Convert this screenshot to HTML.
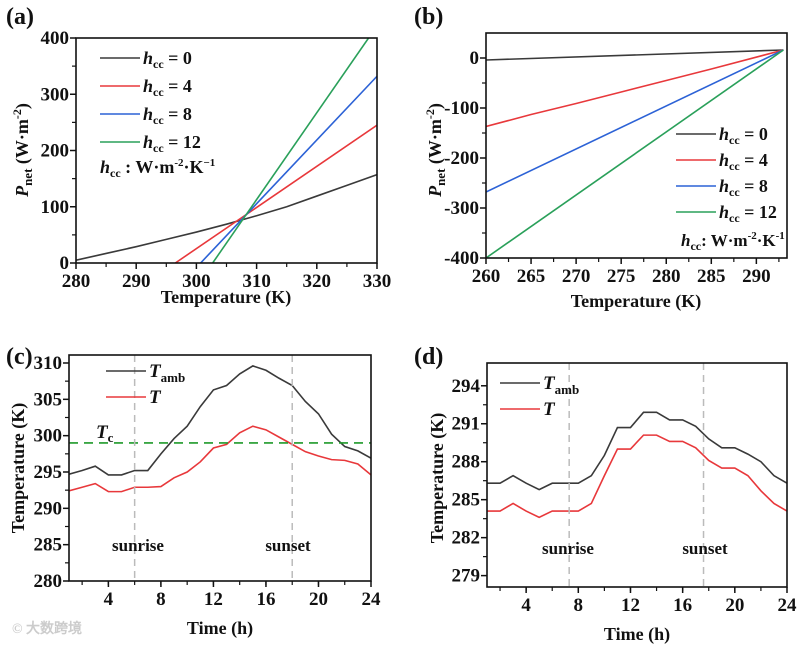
<!DOCTYPE html>
<html><head><meta charset="utf-8"><style>
html,body{margin:0;padding:0;background:#fff;width:807px;height:647px;overflow:hidden}
svg{display:block}
text{font-family:"Liberation Serif",serif;font-weight:bold;fill:#111}
</style></head><body>
<svg id="fig" width="807" height="647" viewBox="0 0 807 647"></svg>
<script>
// ---- data panel a ----
const aT0=[280,285,290,295,300,305,310,315,320,325,330];
const aP0=[5,17,29,42,55,69,84,100,119,138,157];
const aT4=[296.5,330]; const aP4=[0,245];
const aT8=[300.7,330]; const aP8=[0,332];
const aT12=[302.7,328.6]; const aP12=[0,400];
// ---- data panel b ----
const bT0=[260,293]; const bP0=[-4,16];
const bT4=[260,265,270,275,280,285,293]; const bP4=[-137,-113,-91,-68,-45,-22,16];
const bT8=[260,293]; const bP8=[-268,16];
const bT12=[260,293]; const bP12=[-400,16];
// ---- data panel c ----
const hours=[1,2,3,4,5,6,7,8,9,10,11,12,13,14,15,16,17,18,19,20,21,22,23,24];
const cTamb=[294.7,295.2,295.8,294.6,294.6,295.2,295.2,297.5,299.6,301.3,304.0,306.3,306.9,308.5,309.6,309.0,307.9,306.9,304.7,303.0,300.2,298.5,297.9,296.9];
const cT=[292.4,292.9,293.4,292.3,292.3,292.9,292.9,293.0,294.2,295.0,296.4,298.3,298.8,300.4,301.3,300.8,299.8,298.8,297.8,297.2,296.7,296.6,296.1,294.6];
const cTc=299;
// ---- data panel d ----
const dTamb=[286.3,286.3,286.9,286.3,285.8,286.3,286.3,286.3,286.9,288.5,290.7,290.7,291.9,291.9,291.3,291.3,290.8,289.8,289.1,289.1,288.6,288.0,286.9,286.3];
const dT=[284.1,284.1,284.7,284.1,283.6,284.1,284.1,284.1,284.7,286.9,289.0,289.0,290.1,290.1,289.6,289.6,289.1,288.1,287.5,287.5,286.9,285.7,284.7,284.1];
const aXTicks=[280,290,300,310,320,330]; const aYTicks=[0,100,200,300,400];
const bXTicks=[260,265,270,275,280,285,290]; const bYTicks=[-400,-300,-200,-100,0];
const cXTicks=[4,8,12,16,20,24]; const cYTicks=[280,285,290,295,300,305,310];
const dXTicks=[4,8,12,16,20,24]; const dYTicks=[279,282,285,288,291,294];

const NS="http://www.w3.org/2000/svg";
const svg=document.getElementById('fig');
function mk(tag,attrs,parent){const e=document.createElementNS(NS,tag);for(const k in attrs)e.setAttribute(k,attrs[k]);(parent||svg).appendChild(e);return e;}
function txt(x,y,s,size,anchor,parent){const t=mk('text',{x:x,y:y,'font-size':size,'text-anchor':anchor||'middle'},parent);t.innerHTML=s;return t;}

function panel(o){
  const g=mk('g',{});
  
  
  const X=v=>o.L+(v-o.x0)/(o.x1-o.x0)*(o.R-o.L);
  const Y=v=>o.B-(v-o.y0)/(o.y1-o.y0)*(o.B-o.T);
  const xt=mk('g',{},g);
  
  
  o.xticks.forEach(v=>{mk('line',{x1:X(v),x2:X(v),y1:o.B,y2:o.B+6,stroke:'#111','stroke-width':1.5},xt);txt(X(v),o.B+24,v,19,'middle',xt);});
  o.xminor.forEach(v=>{mk('line',{x1:X(v),x2:X(v),y1:o.B,y2:o.B+4,stroke:'#111','stroke-width':1.2},xt);});
  const yt=mk('g',{},g);
  
  
  o.yticks.forEach(v=>{mk('line',{x1:o.L-6,x2:o.L,y1:Y(v),y2:Y(v),stroke:'#111','stroke-width':1.5},yt);txt(o.L-7,Y(v)+6,v,19,'end',yt);});
  o.yminor.forEach(v=>{mk('line',{x1:o.L-4,x2:o.L,y1:Y(v),y2:Y(v),stroke:'#111','stroke-width':1.2},yt);});
  const clip='clip-'+o.name;
  const cp=mk('clipPath',{id:clip},g);mk('rect',{x:o.L,y:o.T,width:o.R-o.L,height:o.B-o.T},cp);
  const pg=mk('g',{'clip-path':'url(#'+clip+')'},g);
  o.series.forEach(s=>{
    const p=mk('polyline',{points:s.xs.map((v,i)=>X(v)+','+Y(s.ys[i])).join(' '),fill:'none',stroke:s.c,'stroke-width':1.6,'stroke-dasharray':s.dash||'none'},pg);
    
    
  });
  (o.vlines||[]).forEach(v=>{const l=mk('line',{x1:X(v.x),x2:X(v.x),y1:o.T,y2:o.B,stroke:'#bbb','stroke-width':1.5,'stroke-dasharray':'7,5'},pg);
    
    });
  mk('rect',{x:o.L,y:o.T,width:o.R-o.L,height:o.B-o.T,fill:'none',stroke:'#111','stroke-width':1.6},g);
  return {X,Y,g};
}
function legend(g,x,y,items,gap,fs){
  items.forEach((it,i)=>{const yy=y+i*gap;
    const le=mk('g',{},g);
    
    
    mk('line',{x1:x,x2:x+40,y1:yy,y2:yy,stroke:it.c,'stroke-width':1.6},le);
    txt(x+43,yy+6,it.t,fs||18,'start',le);});
}
const H=v=>'<tspan font-style="italic">h</tspan><tspan font-size="12" dy="4">cc</tspan><tspan dy="-4"> = '+v+'</tspan>';
const cols=['#3a3a3a','#e8383b','#2c62d6','#2aa05a'];
const rng=(a,b,s)=>{const r=[];for(let v=a;v<=b+1e-9;v+=s)r.push(+v.toFixed(3));return r;};

// panel a
const pa=panel({name:'panel-a',L:76,R:377,T:38,B:263,x0:280,x1:330,y0:0,y1:400,xticks:aXTicks,xminor:rng(285,325,10),yticks:aYTicks,yminor:rng(50,350,100),
 series:[{xs:aT0,ys:aP0,c:cols[0],n:'line-hcc-0'},{xs:aT4,ys:aP4,c:cols[1],n:'line-hcc-4'},{xs:aT8,ys:aP8,c:cols[2],n:'line-hcc-8'},{xs:aT12,ys:aP12,c:cols[3],n:'line-hcc-12'}]});
legend(pa.g,100,58,[0,4,8,12].map((v,i)=>({t:H(v),c:cols[i]})),28,18);
txt(100,173,'<tspan font-style="italic">h</tspan><tspan font-size="12" dy="4">cc</tspan><tspan dy="-4"> : W·m</tspan><tspan font-size="11" dy="-7">-2</tspan><tspan dy="7">·K</tspan><tspan font-size="11" dy="-7">−1</tspan>',18,'start',pa.g);
txt(6,24,'(a)',24,'start');
txt(226,303,'Temperature (K)',18);
txt(0,0,'<tspan font-style="italic">P</tspan><tspan font-size="13" dy="4">net</tspan><tspan dy="-4"> (W·m</tspan><tspan font-size="12" dy="-7">-2</tspan><tspan dy="7">)</tspan>',18,'middle').setAttribute('transform','translate(28,150) rotate(-90)');

// panel b
const pb=panel({name:'panel-b',L:486,R:787,T:33,B:258,x0:260,x1:293.4,y0:-400,y1:50,xticks:bXTicks,xminor:rng(262.5,292.5,5),yticks:bYTicks,yminor:rng(-350,0,100),
 series:[{xs:bT0,ys:bP0,c:cols[0],n:'line-hcc-0'},{xs:bT4,ys:bP4,c:cols[1],n:'line-hcc-4'},{xs:bT8,ys:bP8,c:cols[2],n:'line-hcc-8'},{xs:bT12,ys:bP12,c:cols[3],n:'line-hcc-12'}]});
legend(pb.g,676,134,[0,4,8,12].map((v,i)=>({t:H(v),c:cols[i]})),26,18);
txt(681,246,'<tspan font-style="italic">h</tspan><tspan font-size="12" dy="4">cc</tspan><tspan dy="-4">: W·m</tspan><tspan font-size="11" dy="-7">-2</tspan><tspan dy="7">·K</tspan><tspan font-size="11" dy="-7">-1</tspan>',17,'start',pb.g);
txt(414,24,'(b)',24,'start');
txt(636,307,'Temperature (K)',18);
txt(0,0,'<tspan font-style="italic">P</tspan><tspan font-size="13" dy="4">net</tspan><tspan dy="-4"> (W·m</tspan><tspan font-size="12" dy="-7">-2</tspan><tspan dy="7">)</tspan>',18,'middle').setAttribute('transform','translate(441,150) rotate(-90)');

// panel c
const pc=panel({name:'panel-c',L:69,R:371,T:355,B:581,x0:1,x1:24,y0:280,y1:311.1,xticks:cXTicks,xminor:rng(2,22,2),yticks:cYTicks,yminor:rng(282.5,307.5,5),
 series:[{xs:hours,ys:cTamb,c:'#3a3a3a',n:'line-t-amb'},{xs:hours,ys:cT,c:'#e8383b',n:'line-t'},{xs:[1,24],ys:[cTc,cTc],c:'#1f9a2a',dash:'9,6',n:'line-tc'}],
 vlines:[{x:6,n:'sunrise-line'},{x:18,n:'sunset-line'}]});
legend(pc.g,106,371,[{t:'<tspan font-style="italic">T</tspan><tspan font-size="13" dy="5">amb</tspan>',c:'#3a3a3a'},{t:'<tspan font-style="italic">T</tspan>',c:'#e8383b'}],26,19);
txt(96,438,'<tspan font-style="italic">T</tspan><tspan font-size="13" dy="4">c</tspan>',19,'start',pc.g);
txt(138,551,'sunrise',17,'middle',pc.g);
txt(288,551,'sunset',17,'middle',pc.g);
txt(6,364,'(c)',24,'start');
txt(220,634,'Time (h)',18);
txt(0,0,'Temperature (K)',18,'middle').setAttribute('transform','translate(24,468) rotate(-90)');
const wm=txt(12,633,'© 大数跨境',14,'start');wm.style.fill='#ccc';wm.setAttribute('font-family','"Liberation Sans","Noto Sans CJK SC",sans-serif');



// panel d
const pd=panel({name:'panel-d',L:487,R:787,T:363,B:587,x0:1,x1:24,y0:278.1,y1:295.8,xticks:dXTicks,xminor:rng(2,22,2),yticks:dYTicks,yminor:rng(280.5,292.5,3),
 series:[{xs:hours,ys:dTamb,c:'#3a3a3a',n:'line-t-amb'},{xs:hours,ys:dT,c:'#e8383b',n:'line-t'}],
 vlines:[{x:7.3,n:'sunrise-line'},{x:17.6,n:'sunset-line'}]});
legend(pd.g,500,383,[{t:'<tspan font-style="italic">T</tspan><tspan font-size="13" dy="5">amb</tspan>',c:'#3a3a3a'},{t:'<tspan font-style="italic">T</tspan>',c:'#e8383b'}],26,19);
txt(568,554,'sunrise',17,'middle',pd.g);
txt(705,554,'sunset',17,'middle',pd.g);
txt(414,364,'(d)',24,'start');
txt(637,640,'Time (h)',18);
txt(0,0,'Temperature (K)',18,'middle').setAttribute('transform','translate(443,478) rotate(-90)');
</script>
</body></html>
